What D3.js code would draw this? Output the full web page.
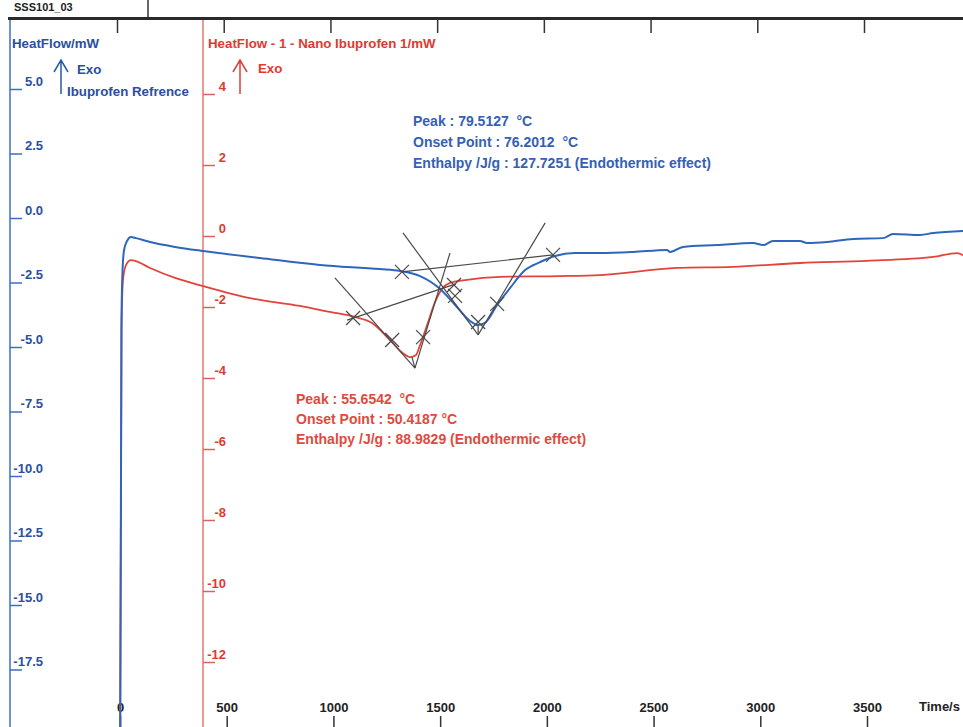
<!DOCTYPE html>
<html>
<head>
<meta charset="utf-8">
<script src="https://cdn.jsdelivr.net/npm/d3@7"></script>
<style>
  body { margin: 0; background: #fff; }
  svg { display: block; font-family: "Liberation Sans", Arial, sans-serif; font-weight: bold; }
  text { white-space: pre; }
</style>
</head>
<body>
<svg id="chart" width="963" height="727"></svg>
<script>

// time ticks (s) and the two heat flow axes
var timeTicks = [0, 500, 1000, 1500, 2000, 2500, 3000, 3500];
var blueTicks = [5, 2.5, 0, -2.5, -5, -7.5, -10, -12.5, -15, -17.5];
var redTicks = [4, 2, 0, -2, -4, -6, -8, -10, -12];

// Ibuprofen reference (left axis, mW)
var blueTime = [0, 7, 12, 19, 33, 52, 75, 141, 258, 389, 656, 937, 1218, 1312, 1406, 1500, 1570, 1640, 1678, 1715, 1767, 1828, 1898, 1968, 2038, 2132,
  2249, 2404, 2563, 2577, 2638, 2798, 2966, 3013, 3060, 3186, 3219, 3313, 3435, 3575, 3622, 3749, 3810, 3950];
var blueFlow = [-22, -3.95, -2.0, -1.24, -0.89, -0.74, -0.78, -0.93, -1.12, -1.28, -1.55, -1.82, -1.98, -2.05, -2.25, -2.75, -3.37, -3.99, -4.15, -4.03, -3.37, -2.71, -2.02, -1.71, -1.47, -1.36,
  -1.36, -1.32, -1.24, -1.32, -1.12, -1.05, -0.97, -1.05, -0.89, -0.89, -0.97, -0.93, -0.81, -0.78, -0.62, -0.66, -0.58, -0.50];

// Nano ibuprofen (right axis, mW)
var redTime = [0, 7, 14, 28, 52, 70, 141, 258, 389, 609, 843, 984, 1101, 1181, 1265, 1326, 1359, 1387, 1406, 1439, 1476, 1509, 1546, 1617, 1781, 2062,
  2249, 2610, 2873, 3187, 3500, 3810, 3922, 3950];
var redFlow = [-16, -2.65, -1.24, -0.82, -0.68, -0.70, -0.90, -1.18, -1.41, -1.75, -1.97, -2.14, -2.28, -2.45, -2.93, -3.30, -3.41, -3.35, -3.07, -2.51, -1.86, -1.49, -1.32, -1.24, -1.15, -1.13,
  -1.10, -0.90, -0.87, -0.76, -0.70, -0.59, -0.48, -0.54];

// peak evaluation: tangents/baseline [t1, v1, t2, v2], markers [t, v]
var blueLines = [[1326, -0.58, 1678, -4.53], [1678, -4.53, 1992, -0.19], [1321, -2.09, 2029, -1.43], [1678, -4.15, 1678, -4.53]];
var blueMarks = [[1321, -2.09], [1570, -3.02], [1767, -3.33], [2029, -1.43], [1678, -4.03]];
var redLines = [[1007, -1.18, 1382, -3.72], [1382, -3.72, 1546, -0.48], [1064, -2.37, 1574, -1.35], [1368, -3.41, 1382, -3.72]];
var redMarks = [[1092, -2.31], [1275, -2.93], [1420, -2.85], [1565, -1.38]];

var blueText = ["Peak : 79.5127  \u00B0C", "Onset Point : 76.2012  \u00B0C", "Enthalpy /J/g : 127.7251 (Endothermic effect)"];
var redText = ["Peak : 55.6542  \u00B0C", "Onset Point : 50.4187 \u00B0C", "Enthalpy /J/g : 88.9829 (Endothermic effect)"];

var blueCol = "#2f66bd", redCol = "#e2433a", gray = "#4a4a4a";

var svg = d3.select("#chart");

var x = d3.scaleLinear().domain([0, 3500]).range([120, 867]);
var yB = d3.scaleLinear().domain([-17.5, 5]).range([669.5, 89]);
var yR = d3.scaleLinear().domain([-12, 4]).range([662, 94]);

// frame at the top
svg.append("text").attr("x", 14).attr("y", 11).attr("font-size", 11).attr("fill", "#222").text("SSS101_03");
svg.append("line").attr("x1", 148).attr("x2", 148).attr("y1", 0).attr("y2", 18).attr("stroke", "#333").attr("stroke-width", 1.5);
svg.append("line").attr("x1", 8).attr("x2", 963).attr("y1", 18.5).attr("y2", 18.5).attr("stroke", "#2a2a2a").attr("stroke-width", 3);

svg.append("g")
    .attr("transform", "translate(-3,19)")
    .call(d3.axisBottom(x).tickValues(timeTicks).tickSize(14).tickFormat(""))
    .call(g => g.select(".domain").remove())
    .selectAll("line").attr("stroke", "#333").attr("stroke-width", 1.5);

// left (blue) axis
svg.append("line").attr("x1", 10).attr("x2", 10).attr("y1", 20).attr("y2", 727).attr("stroke", "#3d6cc4").attr("stroke-width", 1.5);
var ba = svg.append("g")
    .attr("transform", "translate(10,0)")
    .call(d3.axisRight(yB).tickValues(blueTicks).tickSize(12).tickFormat(d => d.toFixed(1)));
ba.select(".domain").remove();
ba.selectAll("line").attr("stroke", "#3d6cc4").attr("stroke-width", 1.5);
ba.selectAll("text").attr("x", 33).attr("dy", "-0.3em").attr("text-anchor", "end")
    .attr("fill", "#2a4f9e").attr("font-size", 13).attr("font-family", null);

// right (red) axis
svg.append("line").attr("x1", 203).attr("x2", 203).attr("y1", 20).attr("y2", 727).attr("stroke", "#d8625c").attr("stroke-width", 1.3);
var ra = svg.append("g")
    .attr("transform", "translate(203,0)")
    .call(d3.axisRight(yR).tickValues(redTicks).tickSize(12).tickFormat(d => d));
ra.select(".domain").remove();
ra.selectAll("line").attr("stroke", "#d8625c").attr("stroke-width", 1.5);
ra.selectAll("text").attr("x", 23).attr("dy", "-0.3em").attr("text-anchor", "end")
    .attr("fill", "#de3a30").attr("font-size", 13).attr("font-family", null);

// time axis along the bottom
var xa = svg.append("g")
    .attr("transform", "translate(0,727)")
    .call(d3.axisTop(x).tickValues(timeTicks).tickSize(11).tickPadding(4).tickFormat(d => d));
xa.select(".domain").remove();
xa.selectAll("line").attr("stroke", "#333").attr("stroke-width", 1.5);
xa.selectAll("text").attr("fill", "#222").attr("font-size", 13).attr("font-family", null);
svg.append("text").attr("x", 919).attr("y", 711).attr("font-size", 13).attr("fill", "#222").text("Time/s");

// axis titles and Exo arrows
svg.append("text").attr("x", 12).attr("y", 48).attr("font-size", 13.3).attr("fill", "#2a4f9e").text("HeatFlow/mW");
svg.append("text").attr("x", 208).attr("y", 48).attr("font-size", 13.3).attr("fill", "#de3a30").text("HeatFlow - 1 - Nano Ibuprofen 1/mW");

function arrow(cx, col) {
  svg.append("path")
      .attr("d", "M" + cx + ",94V60M" + (cx - 7) + ",72L" + cx + ",60L" + (cx + 7) + ",72")
      .attr("fill", "none").attr("stroke", col).attr("stroke-width", 1.5);
}
arrow(61, "#2a5aa8");
arrow(240, "#d9403a");
svg.append("text").attr("x", 77).attr("y", 74).attr("font-size", 13.3).attr("fill", "#2a4f9e").text("Exo");
svg.append("text").attr("x", 67).attr("y", 96).attr("font-size", 13.3).attr("fill", "#2a4f9e").text("Ibuprofen Refrence");
svg.append("text").attr("x", 258).attr("y", 73).attr("font-size", 13.3).attr("fill", "#de3a30").text("Exo");

// curves
var lineB = d3.line().x((d, i) => x(blueTime[i])).y(d => yB(d)).curve(d3.curveMonotoneX);
var lineR = d3.line().x((d, i) => x(redTime[i])).y(d => yR(d)).curve(d3.curveMonotoneX);

svg.append("path").datum(redFlow).attr("d", lineR)
    .attr("fill", "none").attr("stroke", redCol).attr("stroke-width", 1.8);
svg.append("path").datum(blueFlow).attr("d", lineB)
    .attr("fill", "none").attr("stroke", blueCol).attr("stroke-width", 2);

// evaluation lines and markers
function construct(lines, marks, y) {
  var g = svg.append("g").attr("stroke", gray).attr("stroke-width", 1.2).attr("fill", "none");
  g.selectAll("line.t").data(lines).enter().append("line")
      .attr("x1", d => x(d[0])).attr("y1", d => y(d[1]))
      .attr("x2", d => x(d[2])).attr("y2", d => y(d[3]));
  g.selectAll("path.m").data(marks).enter().append("path")
      .attr("d", d => {
        var px = x(d[0]), py = y(d[1]), s = 7;
        return "M" + (px - s) + "," + (py - s) + "L" + (px + s) + "," + (py + s) +
               "M" + (px - s) + "," + (py + s) + "L" + (px + s) + "," + (py - s);
      });
}
construct(redLines, redMarks, yR);
construct(blueLines, blueMarks, yB);

// result annotations
svg.append("g").selectAll("text").data(blueText).enter().append("text")
    .attr("x", 413).attr("y", (d, i) => 126 + i * 21)
    .attr("font-size", 14).attr("fill", "#3560b4").text(d => d);
svg.append("g").selectAll("text").data(redText).enter().append("text")
    .attr("x", 296).attr("y", (d, i) => 404 + i * 20)
    .attr("font-size", 14).attr("fill", "#e04a3e").text(d => d);

</script>
</body>
</html>
